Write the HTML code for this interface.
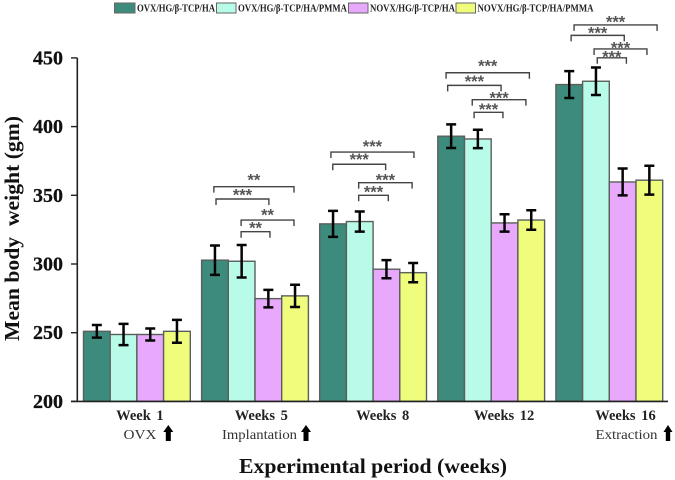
<!DOCTYPE html>
<html>
<head>
<meta charset="utf-8">
<title>Mean body weight</title>
<style>
html,body{margin:0;padding:0;background:#fff;width:675px;height:480px;overflow:hidden}
svg{display:block;filter:blur(0.35px)}
text{font-family:"Liberation Serif",serif;fill:#111}
.tick{font-size:20px;font-weight:bold;text-anchor:end;stroke:#111;stroke-width:.25px}
.wk{font-size:14.5px;font-weight:bold;word-spacing:2px;fill:#222}
.sub{font-size:14px;fill:#333}
.leg{font-size:10px;font-weight:bold;fill:#222}
.title{font-size:21.5px;font-weight:bold}
.star{font-family:"Liberation Sans",sans-serif;font-size:16.5px;font-weight:bold;fill:#555;text-anchor:middle}
</style>
</head>
<body>
<svg id="chart" width="675" height="480" viewBox="0 0 675 480" xmlns="http://www.w3.org/2000/svg">
  <g id="legend">
    <rect x="114.5" y="3" width="20.5" height="10" fill="#3d8b7d" stroke="#666" stroke-width="1"/>
    <text class="leg" x="137" y="11.5" textLength="78" lengthAdjust="spacingAndGlyphs">OVX/HG/β-TCP/HA</text>
    <rect x="216.5" y="3" width="19.5" height="10" fill="#b8fbe8" stroke="#666" stroke-width="1"/>
    <text class="leg" x="238" y="11.5" textLength="109" lengthAdjust="spacingAndGlyphs">OVX/HG/β-TCP/HA/PMMA</text>
    <rect x="348.5" y="3" width="19.5" height="10" fill="#e8a8fb" stroke="#666" stroke-width="1"/>
    <text class="leg" x="370" y="11.5" textLength="85" lengthAdjust="spacingAndGlyphs">NOVX/HG/β-TCP/HA</text>
    <rect x="456" y="3" width="19.5" height="10" fill="#f0fd7c" stroke="#666" stroke-width="1"/>
    <text class="leg" x="477.5" y="11.5" textLength="116" lengthAdjust="spacingAndGlyphs">NOVX/HG/β-TCP/HA/PMMA</text>
  </g>
  <g id="marks"></g>
  <g id="brackets"></g>
  <g id="axes"></g>
  <text class="title" transform="translate(19,228.5) rotate(-90)" text-anchor="middle" xml:space="preserve" textLength="225" lengthAdjust="spacingAndGlyphs">Mean body  weight (gm)</text>
  <text class="title" x="239" y="473" textLength="268" lengthAdjust="spacingAndGlyphs">Experimental period (weeks)</text>
  <text class="sub" x="123.5" y="439" textLength="33" lengthAdjust="spacingAndGlyphs">OVX</text>
  <text class="sub" x="222" y="439" textLength="75" lengthAdjust="spacingAndGlyphs">Implantation</text>
  <text class="sub" x="595.5" y="439" textLength="62" lengthAdjust="spacingAndGlyphs">Extraction</text>
  <path transform="translate(168.3,425)" d="M0 0 L5 7 H2.5 V16 H-2.5 V7 H-5 Z" fill="#000"/>
  <path transform="translate(306,425)" d="M0 0 L5 7 H2.5 V16 H-2.5 V7 H-5 Z" fill="#000"/>
  <path transform="translate(668,425)" d="M0 0 L4.5 7 H2.2 V16 H-2.2 V7 H-4.5 Z" fill="#000"/>
</svg>
<script>
var categories = ['Week 1', 'Weeks 5', 'Weeks 8', 'Weeks 12', 'Weeks 16'];
var ovxHa = [251, 302.8, 329.2, 393, 430.6];
var ovxHaPmma = [248.7, 302, 330.9, 391, 433];
var novxHa = [248.7, 274.8, 296.2, 329.9, 359.7];
var novxHaPmma = [251, 276.8, 293.7, 332, 361];
var ovxHaErr = [4.6, 10.7, 9.5, 8.6, 9.8];
var ovxHaPmmaErr = [7.7, 11.8, 7.3, 6.7, 10];
var novxHaErr = [4.4, 6.4, 6.6, 6.3, 9.8];
var novxHaPmmaErr = [8.3, 8.1, 7, 7.1, 10.5];
var yTicks = [200, 250, 300, 350, 400, 450];
var bracketGroup = [1,1,1,1, 2,2,2,2, 3,3,3,3, 4,4,4,4];
var bracketFromSlot = [.46,.54,1.48,1.48, .42,.49,1.46,1.46, .31,.37,1.29,1.36, .68,.57,1.43,1.55];
var bracketToSlot = [3.46,2.52,3.46,2.56, 3.53,2.47,3.46,2.57, 3.43,2.37,3.30,2.44, 3.79,2.56,3.41,2.64];
var bracketLevel = [356.3,347.3,332,323.5, 381.5,372.6,359.2,350, 439.2,430,419.6,410.4, 474,466.4,456.5,450.1];
var bracketStarLevel = [362.8,351.9,337.3,328.2, 387.3,377.9,363.1,354.4, 446,434.6,422.5,414.3, 477.8,470,459.2,452.6];
var bracketStars = ['**','***','**','**', '***','***','***','***', '***','***','***','***', '***','***','***','***'];

var series = [ovxHa, ovxHaPmma, novxHa, novxHaPmma];
var seriesErr = [ovxHaErr, ovxHaPmmaErr, novxHaErr, novxHaPmmaErr];
var seriesNames = ['ovx-ha', 'ovx-ha-pmma', 'novx-ha', 'novx-ha-pmma'];
var seriesFill = ['#3d8b7d', '#b8fbe8', '#e8a8fb', '#f0fd7c'];

var NS = 'http://www.w3.org/2000/svg';
var barWidth = 26.7;
function yScale(v) { return 401.4 - (v - 200) * 1.374; }
function groupStart(g) { return 83.5 + g * 118.1; }
function slotX(g, slot) { return groupStart(g) + slot * barWidth; }
function make(tag, parent, attrs) {
  var el = document.createElementNS(NS, tag);
  for (var k in attrs) el.setAttribute(k, attrs[k]);
  parent.appendChild(el);
  return el;
}

var marks = document.getElementById('marks');
var axes = document.getElementById('axes');
var brackets = document.getElementById('brackets');

categories.forEach(function (cat, g) {
  series.forEach(function (vals, s) {
    var top = yScale(vals[g]);
    var bar = make('rect', marks, {x: slotX(g, s), y: top, width: barWidth, height: yScale(200) - top, fill: seriesFill[s], stroke: '#5a5f5c', 'stroke-width': 1.4});
    
    
  });
});
categories.forEach(function (cat, g) {
  series.forEach(function (vals, s) {
    var cx = slotX(g, s + 0.5);
    var hi = yScale(vals[g] + seriesErr[s][g]);
    var lo = yScale(vals[g] - seriesErr[s][g]);
    var err = make('path', marks, {d: 'M' + (cx - 5) + ' ' + hi + 'H' + (cx + 5) + 'M' + cx + ' ' + hi + 'V' + lo + 'M' + (cx - 5) + ' ' + lo + 'H' + (cx + 5), fill: 'none', stroke: '#050505', 'stroke-width': 2.5});
    
    
  });
});

bracketGroup.forEach(function (g, i) {
  var x1 = slotX(g, bracketFromSlot[i]);
  var x2 = slotX(g, bracketToSlot[i]);
  var y = yScale(bracketLevel[i]);
  var br = make('path', brackets, {d: 'M' + x1 + ' ' + (y + 6) + 'V' + y + 'H' + x2 + 'V' + (y + 6), fill: 'none', stroke: '#444', 'stroke-width': 1.4});
  
  
  var st = make('text', brackets, {'class': 'star', x: (x1 + x2) / 2, y: yScale(bracketStarLevel[i]) + 8});
  st.textContent = bracketStars[i];
  
  
});

var yAxis = make('path', axes, {d: 'M77.3 ' + yScale(450) + 'V' + yScale(200), fill: 'none', stroke: '#222', 'stroke-width': 1.6});


var xAxis = make('path', axes, {d: 'M71 ' + yScale(200) + 'H668', fill: 'none', stroke: '#222', 'stroke-width': 1.6});



yTicks.forEach(function (t) {
  var y = yScale(t);
  var mark = make('path', axes, {d: 'M71 ' + y + 'H77.3', fill: 'none', stroke: '#222', 'stroke-width': 1.4});
  
  
  var lab = make('text', axes, {'class': 'tick', x: 63, y: y + 6.5});
  lab.textContent = t;
  
  
});

categories.forEach(function (cat, g) {
  var lab = make('text', axes, {'class': 'wk', x: slotX(g, 2) + 3 + 3.3 * g, y: 420, 'text-anchor': 'middle'});
  lab.textContent = cat;
  
  
});
</script>
</body>
</html>
